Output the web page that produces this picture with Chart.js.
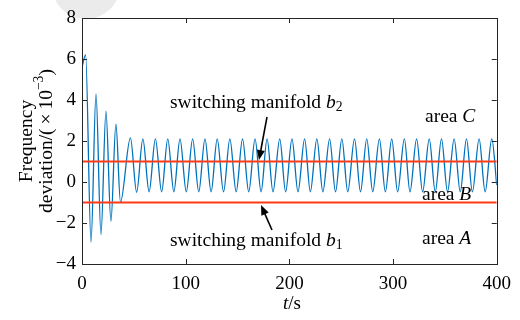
<!DOCTYPE html>
<html>
<head>
<meta charset="utf-8">
<script src="https://cdn.jsdelivr.net/npm/chart.js@4/dist/chart.umd.min.js"></script>
<style>
html,body{margin:0;padding:0;background:#fff;}
canvas{display:block;}
</style>
</head>
<body>
<canvas id="freqChart" width="520" height="320"></canvas>
<script>
// turning points of the frequency deviation response (t in s, value in 1e-3)
var timeS = [0, 3.5, 8.7, 13.5, 18.3, 23.1, 27.9, 32.7, 37.1, 46.7,
  52.7, 58.7, 64.7, 70.8, 76.8, 82.7, 88.6, 94.5, 100.6, 106.7,
  112.6, 118.6, 124.5, 130.4, 136.5, 142.6, 148.7, 154.8, 160.8, 166.9,
  172.7, 178.5, 184.2, 190.7, 196.4, 202.5, 208.3, 214.7, 220.2, 226.5,
  232.3, 238.8, 244.5, 250.6, 256.3, 262.8, 268.6, 274.6, 280.4, 286.8,
  292.6, 298.7, 304.4, 310.9, 316.3, 322.7, 328.5, 334.9, 340.7, 346.7,
  352.5, 358.9, 364.8, 370.8, 376.5, 383.0, 388.8, 395.2, 400];
var freqDev = [5.6, 6.2, -2.93, 4.3, -2.56, 3.46, -1.92, 2.82, -0.98, 2.15,
  -0.5, 2.1, -0.48, 2.1, -0.48, 2.1, -0.48, 2.1, -0.48, 2.1,
  -0.48, 2.1, -0.48, 2.1, -0.48, 2.1, -0.48, 2.1, -0.48, 2.1,
  -0.48, 2.1, -0.48, 2.1, -0.48, 2.1, -0.48, 2.1, -0.48, 2.1,
  -0.48, 2.1, -0.48, 2.1, -0.48, 2.1, -0.48, 2.1, -0.48, 2.1,
  -0.48, 2.1, -0.48, 2.1, -0.48, 2.1, -0.48, 2.1, -0.48, 2.1,
  -0.48, 2.1, -0.48, 2.1, -0.48, 2.1, -0.48, 2.1, -0.15];

// switching manifolds
var manifoldT = [0, 400];
var manifoldB2 = [1, 1];
var manifoldB1 = [-1, -1];

var xTicks = [0, 100, 200, 300, 400];
var yTicks = [-4, -2, 0, 2, 4, 6, 8];

var serif = "'Liberation Serif', 'Times New Roman', serif";

function pts(xs, ys) {
  return xs.map(function(x, i) { return {x: x, y: ys[i]}; });
}

// text with italic / subscript / superscript pieces
function richWidth(c, parts, size) {
  var w = 0;
  parts.forEach(function(p) {
    var s = (p.sub || p.sup) ? size * 0.7 : size;
    c.font = (p.it ? 'italic ' : '') + s + 'px ' + serif;
    w += c.measureText(p.t).width;
  });
  return w;
}
function drawRich(c, x, y, parts, size) {
  parts.forEach(function(p) {
    var s = (p.sub || p.sup) ? size * 0.7 : size;
    c.font = (p.it ? 'italic ' : '') + s + 'px ' + serif;
    var dy = p.sub ? size * 0.22 : (p.sup ? -size * 0.38 : 0);
    c.fillText(p.t, x, y + dy);
    x += c.measureText(p.t).width;
  });
}
function arrow(c, x1, y1, x2, y2) {
  var ang = Math.atan2(y2 - y1, x2 - x1), L = 10, W = 4;
  c.beginPath();
  c.moveTo(x1, y1);
  c.lineTo(x2 - L * 0.8 * Math.cos(ang), y2 - L * 0.8 * Math.sin(ang));
  c.lineWidth = 1.6;
  c.stroke();
  c.beginPath();
  c.moveTo(x2, y2);
  c.lineTo(x2 - L * Math.cos(ang) + W * Math.sin(ang), y2 - L * Math.sin(ang) - W * Math.cos(ang));
  c.lineTo(x2 - L * Math.cos(ang) - W * Math.sin(ang), y2 - L * Math.sin(ang) + W * Math.cos(ang));
  c.closePath();
  c.fill();
}

var decor = {
  id: 'decor',
  beforeDraw: function(chart) {
    var c = chart.ctx;
    c.save();
    c.fillStyle = '#ebebeb';
    c.beginPath();
    c.ellipse(86, -14, 34, 33, 0, 0, Math.PI * 2);
    c.fill();
    c.restore();
  },
  afterDatasetsDraw: function(chart) {
    var c = chart.ctx, a = chart.chartArea, xs = chart.scales.x, ys = chart.scales.y;
    c.save();
    c.strokeStyle = '#262626';
    c.lineWidth = 1;
    c.strokeRect(Math.round(a.left) + 0.5, Math.round(a.top) + 0.5,
      Math.round(a.right - a.left), Math.round(a.bottom - a.top));
    c.beginPath();
    xTicks.forEach(function(v) {
      var px = Math.round(xs.getPixelForValue(v)) + 0.5;
      c.moveTo(px, a.bottom); c.lineTo(px, a.bottom - 5);
      c.moveTo(px, a.top); c.lineTo(px, a.top + 5);
    });
    yTicks.forEach(function(v) {
      var py = Math.round(ys.getPixelForValue(v)) + 0.5;
      c.moveTo(a.left, py); c.lineTo(a.left + 5, py);
      c.moveTo(a.right, py); c.lineTo(a.right - 5, py);
    });
    c.stroke();
    c.restore();
  },
  afterDraw: function(chart) {
    var c = chart.ctx, a = chart.chartArea;
    c.save();
    c.fillStyle = '#000';
    c.strokeStyle = '#000';
    c.textBaseline = 'middle';
    c.textAlign = 'left';

    drawRich(c, 170, 103, [{t: 'switching manifold '}, {t: 'b', it: true}, {t: '2', sub: true}], 19.5);
    drawRich(c, 170, 241, [{t: 'switching manifold '}, {t: 'b', it: true}, {t: '1', sub: true}], 19.5);
    drawRich(c, 425, 117, [{t: 'area '}, {t: 'C', it: true}], 19.5);
    drawRich(c, 422, 195, [{t: 'area '}, {t: 'B', it: true}], 19.5);
    drawRich(c, 422, 239, [{t: 'area '}, {t: 'A', it: true}], 19.5);

    arrow(c, 267, 117, 259, 160);
    arrow(c, 272, 230, 261, 205);

    // x axis title
    var xt = [{t: 't', it: true}, {t: '/s'}];
    drawRich(c, 292 - richWidth(c, xt, 19) / 2, 304, xt, 19);

    // y axis title, two lines centred on the axis
    var midY = (a.top + a.bottom) / 2;
    c.save();
    c.translate(27, midY);
    c.rotate(-Math.PI / 2);
    var l1 = [{t: 'Frequency'}];
    drawRich(c, -richWidth(c, l1, 19.5) / 2, 0, l1, 19.5);
    c.restore();
    c.save();
    c.translate(47, midY);
    c.rotate(-Math.PI / 2);
    var l2 = [{t: 'deviation/(\u2009×\u200910'}, {t: '−3', sup: true}, {t: ')'}];
    drawRich(c, -richWidth(c, l2, 19.5) / 2, 0, l2, 19.5);
    c.restore();

    c.restore();
  }
};

new Chart(document.getElementById('freqChart').getContext('2d'), {
  type: 'line',
  data: {
    datasets: [
      {label: 'b2', data: pts(manifoldT, manifoldB2), borderColor: '#ff3a14', borderWidth: 2, pointRadius: 0, order: 0},
      {label: 'b1', data: pts(manifoldT, manifoldB1), borderColor: '#ff3a14', borderWidth: 2, pointRadius: 0, order: 0},
      {label: 'deviation', data: pts(timeS, freqDev), borderColor: '#0072bd', borderWidth: 1.3, pointRadius: 0,
        cubicInterpolationMode: 'monotone', order: 1}
    ]
  },
  options: {
    responsive: false,
    animation: false,
    events: [],
    layout: {padding: {left: 0, right: 23, top: 18, bottom: 0}},
    plugins: {legend: {display: false}, tooltip: {enabled: false}},
    scales: {
      x: {
        type: 'linear', min: 0, max: 400,
        afterBuildTicks: function(s) { s.ticks = xTicks.map(function(v) { return {value: v}; }); },
        afterFit: function(s) { s.height = 56; },
        grid: {display: false, drawTicks: false},
        border: {display: false},
        ticks: {font: {family: serif, size: 19}, color: '#000', padding: 9, maxRotation: 0}
      },
      y: {
        type: 'linear', min: -4, max: 8,
        afterBuildTicks: function(s) { s.ticks = yTicks.map(function(v) { return {value: v}; }); },
        afterFit: function(s) { s.width = 82; },
        grid: {display: false, drawTicks: false},
        border: {display: false},
        ticks: {font: {family: serif, size: 19}, color: '#000', padding: 6,
          callback: function(v) { return String(v).replace('-', '−'); }}
      }
    }
  },
  plugins: [decor]
});
</script>
</body>
</html>
